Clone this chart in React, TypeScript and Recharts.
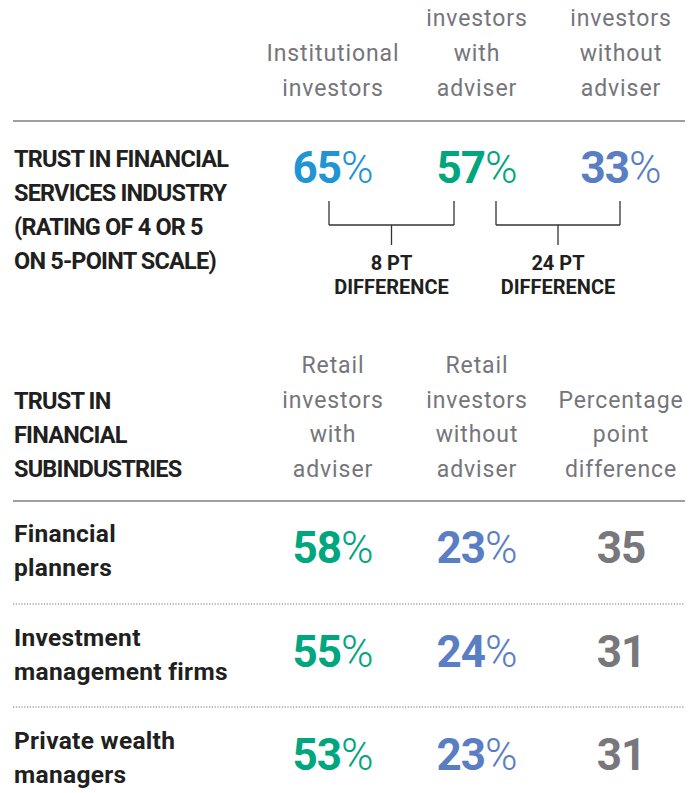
import React from 'react';
import { ScatterChart, XAxis, YAxis, Scatter, ReferenceLine } from 'recharts';

// ---------- data ----------
const industryGroups = ['Institutional investors', 'Retail investors with adviser', 'Retail investors without adviser'];
const industryHeaderLines = [
  ['', 'Institutional', 'investors'],
  ['investors', 'with', 'adviser'],
  ['investors', 'without', 'adviser'],
];
const industryLabel = ['TRUST IN FINANCIAL', 'SERVICES INDUSTRY', '(RATING OF 4 OR 5', 'ON 5-POINT SCALE)'];
const industryTrust = [65, 57, 33];
const industryDiffs = [8, 24];

const subHeaderLines = [
  ['Retail', 'investors', 'with', 'adviser'],
  ['Retail', 'investors', 'without', 'adviser'],
  ['', 'Percentage', 'point', 'difference'],
];
const subLabel = ['TRUST IN', 'FINANCIAL', 'SUBINDUSTRIES'];
const subindustries = [
  ['Financial', 'planners'],
  ['Investment', 'management firms'],
  ['Private wealth', 'managers'],
];
const withAdviser = [58, 55, 53];
const withoutAdviser = [23, 24, 23];
const pointDiff = [35, 31, 31];

// ---------- colours ----------
const BLUE = '#1f95d5';
const GREEN = '#00a67e';
const INDIGO = '#5a7ec3';
const GRAYNUM = '#77777c';
const HEADGRAY = '#75757a';
const DARK = '#221f20';
const RULE = '#7f7f7f';
const industryColors = [BLUE, GREEN, INDIGO];

// ---------- layout ----------
const W = 699;
const H = 793;
const colX = [333, 477, 621];
const labelX = 14;
const FONT = 'Roboto, "Noto Sans", sans-serif';

type Pt = { x: number; y: number; text: string; color?: string; pct?: boolean; group?: string };

const topHeaderPts: Pt[] = [];
industryHeaderLines.forEach((lines, c) =>
  lines.forEach((t, r) => {
    if (t) topHeaderPts.push({ x: colX[c], y: 26 + r * 35, text: t, group: industryGroups[c] });
  })
);
const subHeaderPts: Pt[] = [];
subHeaderLines.forEach((lines, c) =>
  lines.forEach((t, r) => {
    if (t) subHeaderPts.push({ x: colX[c], y: 373 + r * 34.5, text: t });
  })
);

const capsLabelPts: Pt[] = [
  ...industryLabel.map((t, i) => ({ x: labelX, y: 167 + i * 34, text: t })),
  ...subLabel.map((t, i) => ({ x: labelX, y: 409 + i * 34, text: t })),
];

const rowBase = [563, 667, 770];
const rowLabelPts: Pt[] = [];
subindustries.forEach((lines, i) =>
  lines.forEach((t, j) => rowLabelPts.push({ x: labelX, y: rowBase[i] - 21 + j * 34, text: t }))
);

const valuePts: Pt[] = [
  ...industryTrust.map((v, i) => ({ x: colX[i], y: 183, text: String(v), color: industryColors[i], pct: true })),
  ...withAdviser.map((v, i) => ({ x: colX[0], y: rowBase[i], text: String(v), color: GREEN, pct: true })),
  ...withoutAdviser.map((v, i) => ({ x: colX[1], y: rowBase[i], text: String(v), color: INDIGO, pct: true })),
  ...pointDiff.map((v, i) => ({ x: colX[2], y: rowBase[i], text: String(v), color: GRAYNUM, pct: false })),
];

const bracketEnds = [
  [329, 454],
  [496, 620],
];
const bracketMid = bracketEnds.map(([a, b]) => (a + b) / 2);
const diffPts: Pt[] = [];
industryDiffs.forEach((d, i) => {
  diffPts.push({ x: bracketMid[i], y: 270, text: `${d} PT` });
  diffPts.push({ x: bracketMid[i], y: 294, text: 'DIFFERENCE' });
});

// ---------- shapes ----------
const headerShape = (p: any) => (
  <text x={p.cx} y={p.cy} textAnchor="middle" fontFamily={FONT} fontSize={23} letterSpacing={0.9} fill={HEADGRAY}>
    {p.payload.text}
  </text>
);
const capsShape = (p: any) => (
  <text x={p.cx} y={p.cy} textAnchor="start" fontFamily={FONT} fontSize={23.5} fontWeight={700} letterSpacing={-0.8} fill={DARK}>
    {p.payload.text}
  </text>
);
const rowLabelShape = (p: any) => (
  <text x={p.cx} y={p.cy} textAnchor="start" fontFamily={FONT} fontSize={24.5} fontWeight={700} letterSpacing={0.3} fill={DARK}>
    {p.payload.text}
  </text>
);
const diffShape = (p: any) => (
  <text x={p.cx} y={p.cy} textAnchor="middle" fontFamily={FONT} fontSize={20} fontWeight={700} fill={DARK}>
    {p.payload.text}
  </text>
);
const valueShape = (p: any) => (
  <text x={p.cx} y={p.cy} textAnchor="middle" fontFamily={FONT} fontSize={44} fill={p.payload.color}>
    <tspan fontWeight={700} letterSpacing={-1}>{p.payload.text}</tspan>
    {p.payload.pct ? <tspan fontWeight={300}>%</tspan> : null}
  </text>
);

export default function App() {
  return (
    <div style={{ position: 'absolute', left: 0, top: 0, width: W, height: H, background: '#fff' }}>
      <ScatterChart width={W} height={H} margin={{ top: 0, right: 0, bottom: 0, left: 0 }}>
        <XAxis type="number" dataKey="x" domain={[0, W]} hide allowDataOverflow />
        <YAxis type="number" dataKey="y" domain={[0, H]} reversed hide allowDataOverflow />

        {/* rules */}
        <ReferenceLine segment={[{ x: 13, y: 121 }, { x: 685, y: 121 }]} stroke={RULE} strokeWidth={1.5} ifOverflow="visible" />
        <ReferenceLine segment={[{ x: 13, y: 501 }, { x: 685, y: 501 }]} stroke={RULE} strokeWidth={1.5} ifOverflow="visible" />
        {[604, 707].map((y) => (
          <ReferenceLine key={y} segment={[{ x: 13, y }, { x: 685, y }]} stroke="#6f6f6f" strokeWidth={1.2} strokeDasharray="1.2 1.6" ifOverflow="visible" />
        ))}

        {/* brackets */}
        {bracketEnds.map(([a, b], i) => (
          <React.Fragment key={i}>
            <ReferenceLine segment={[{ x: a, y: 201 }, { x: a, y: 225 }]} stroke="#333" strokeWidth={1.3} ifOverflow="visible" />
            <ReferenceLine segment={[{ x: b, y: 201 }, { x: b, y: 225 }]} stroke="#333" strokeWidth={1.3} ifOverflow="visible" />
            <ReferenceLine segment={[{ x: a, y: 225 }, { x: b, y: 225 }]} stroke="#333" strokeWidth={1.3} ifOverflow="visible" />
            <ReferenceLine segment={[{ x: bracketMid[i], y: 225 }, { x: bracketMid[i], y: 245 }]} stroke="#333" strokeWidth={1.3} ifOverflow="visible" />
          </React.Fragment>
        ))}

        <Scatter name="topHeaders" data={topHeaderPts} shape={headerShape} isAnimationActive={false} />
        <Scatter name="subHeaders" data={subHeaderPts} shape={headerShape} isAnimationActive={false} />
        <Scatter name="capsLabels" data={capsLabelPts} shape={capsShape} isAnimationActive={false} />
        <Scatter name="rowLabels" data={rowLabelPts} shape={rowLabelShape} isAnimationActive={false} />
        <Scatter name="diffs" data={diffPts} shape={diffShape} isAnimationActive={false} />
        <Scatter name="values" data={valuePts} shape={valueShape} isAnimationActive={false} />
      </ScatterChart>
    </div>
  );
}
